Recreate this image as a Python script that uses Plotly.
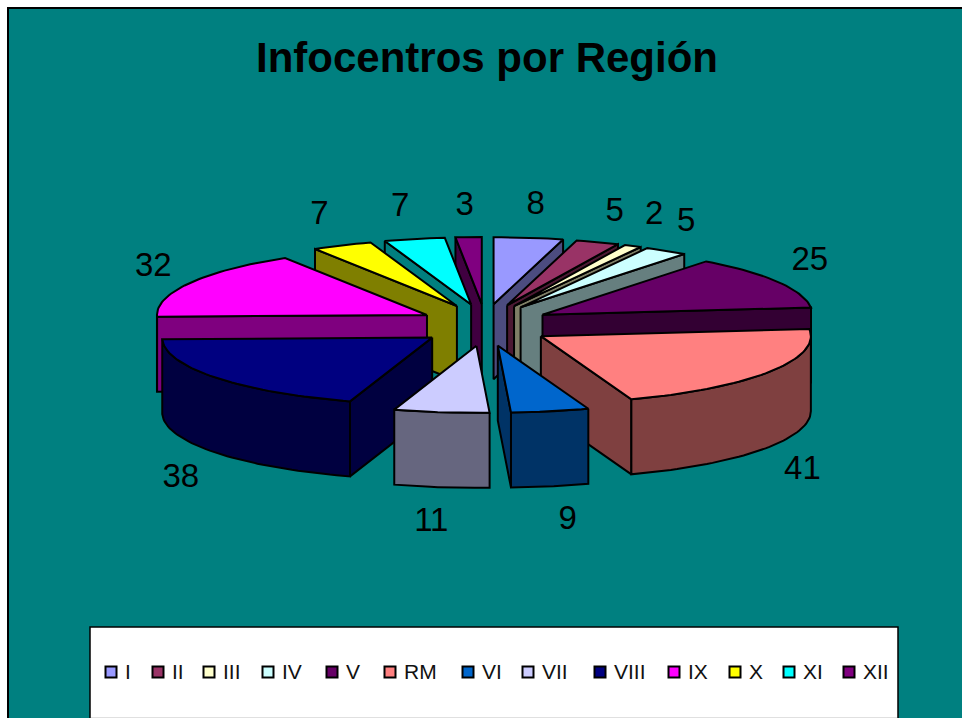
import math
import plotly.graph_objects as go

# ---- data ----
regions = ["I", "II", "III", "IV", "V", "RM", "VI", "VII", "VIII", "IX", "X", "XI", "XII"]
infocentros = [8, 5, 2, 5, 25, 41, 9, 11, 38, 32, 7, 7, 3]
top_colors = ["#9999FF", "#993366", "#FFFFCC", "#CCFFFF", "#660066", "#FF8080", "#0066CC",
              "#CCCCFF", "#000080", "#FF00FF", "#FFFF00", "#00FFFF", "#800080"]
title_text = "Infocentros por Región"

# ---- layout constants, in window pixels ----
W, H = 962, 718
CX, CY = 485, 325
RX, RY = 270, 67
EX, EY = 66, 21
DEPTH = 75
LBL_CX, LBL_RX, LBL_RY = 484, 375, 123
label_nudge_x = [3, 5, 5, 0, -1, 1, 11, -4, -3, -1, -5, -5, -1]
label_nudge_y = [3, 4, 1, 1, -3, 5, 0, 1, 5, 1, 2, 3, 5]
key_x = [111, 158, 209, 268, 332, 390, 468, 528, 600, 674, 735, 789, 849]
KEY_Y = 672
TEAL = "#008080"
LINE = dict(color="black", width=2)


def darker(hex_color):
    r, g, b = (int(hex_color[i:i + 2], 16) for i in (1, 3, 5))
    return "#%02X%02X%02X" % (r // 2, g // 2, b // 2)


def rim(ax, ay, deg):
    t = math.radians(deg)
    return ax + RX * math.sin(t), ay - RY * math.cos(t)


def arc(ax, ay, a0, a1):
    n = max(2, int(abs(a1 - a0) / 1.5) + 1)
    return [rim(ax, ay, a0 + (a1 - a0) * i / (n - 1)) for i in range(n)]


fig = go.Figure()


def poly(points, color):
    xs = [p[0] for p in points] + [points[0][0]]
    ys = [p[1] for p in points] + [points[0][1]]
    fig.add_trace(go.Scatter(x=xs, y=ys, mode="lines", fill="toself", fillcolor=color,
                             line=LINE, showlegend=False, hoverinfo="skip"))


total = sum(infocentros)
slices = []
cum = 0
for name, value, color in zip(regions, infocentros, top_colors):
    a0 = cum / total * 360
    cum += value
    a1 = cum / total * 360
    mid = math.radians((a0 + a1) / 2)
    ax = CX + EX * math.sin(mid)
    ay = CY - EY * math.cos(mid)
    slices.append(dict(name=name, value=value, color=color, a0=a0, a1=a1, mid=mid, ax=ax, ay=ay))

for s in sorted(slices, key=lambda q: q["ay"]):
    ax, ay, a0, a1 = s["ax"], s["ay"], s["a0"], s["a1"]
    wall = darker(s["color"])
    # radial faces turned toward the viewer
    if math.sin(math.radians(a0)) < 0:
        p = rim(ax, ay, a0)
        poly([(ax, ay), p, (p[0], p[1] + DEPTH), (ax, ay + DEPTH)], wall)
    if math.sin(math.radians(a1)) > 0:
        p = rim(ax, ay, a1)
        poly([(ax, ay), p, (p[0], p[1] + DEPTH), (ax, ay + DEPTH)], wall)
    # outer wall, front half only
    lo, hi = max(a0, 90), min(a1, 270)
    if hi > lo:
        edge = arc(ax, ay, lo, hi)
        poly(edge + [(x, y + DEPTH) for x, y in reversed(edge)], wall)
    # top face
    poly([(ax, ay)] + arc(ax, ay, a0, a1), s["color"])

# value labels
lx = [LBL_CX + LBL_RX * math.sin(s["mid"]) + n for s, n in zip(slices, label_nudge_x)]
ly = [CY - LBL_RY * math.cos(s["mid"]) + (DEPTH if math.cos(s["mid"]) < 0 else 0) + n
      for s, n in zip(slices, label_nudge_y)]
fig.add_trace(go.Scatter(x=lx, y=ly, mode="text", text=[str(v) for v in infocentros],
                         textfont=dict(family="Liberation Sans", size=33, color="black"),
                         textposition="middle center", showlegend=False, hoverinfo="skip"))

# legend keys inside the white box
fig.add_trace(go.Scatter(x=key_x, y=[KEY_Y] * len(regions), mode="markers",
                         marker=dict(symbol="square", size=11, color=top_colors,
                                     line=dict(color="black", width=2)),
                         showlegend=False, hoverinfo="skip"))
fig.add_trace(go.Scatter(x=[k + 14 for k in key_x], y=[KEY_Y + 2] * len(regions), mode="text", text=regions,
                         textposition="middle right",
                         textfont=dict(family="Liberation Sans", size=21, color="#111111"),
                         showlegend=False, hoverinfo="skip"))

fig.update_layout(
    width=W, height=H, margin=dict(l=0, r=0, t=0, b=0, pad=0),
    paper_bgcolor="white", plot_bgcolor="rgba(0,0,0,0)", showlegend=False,
    xaxis=dict(range=[0, W], visible=False, fixedrange=True),
    yaxis=dict(range=[H, 0], visible=False, fixedrange=True),
    title=dict(text="<b>%s</b>" % title_text, x=487 / W, xanchor="center",
               y=1 - 57 / H, yanchor="middle",
               font=dict(family="Liberation Sans", size=42, color="black")),
    shapes=[
        dict(type="rect", layer="below", xref="x", yref="y", x0=8, y0=8, x1=W + 5, y1=H + 5,
             fillcolor=TEAL, line=dict(color="black", width=2)),
        dict(type="rect", layer="below", xref="x", yref="y", x0=90, y0=627, x1=898, y1=H + 5,
             fillcolor="white", line=dict(color="black", width=1.5)),
        dict(type="line", layer="below", xref="x", yref="y", x0=91, y0=717.5, x1=897, y1=717.5,
             line=dict(color="#E0E0E0", width=1)),
    ],
)
fig.write_html("out.html", config=dict(displayModeBar=False),
               default_width="%dpx" % W, default_height="%dpx" % H,
               post_script="document.body.style.margin='0';document.documentElement.style.overflow='hidden';")
